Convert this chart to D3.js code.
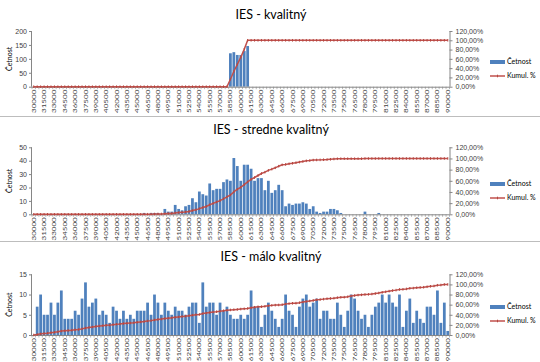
<!DOCTYPE html>
<html>
<head>
<meta charset="utf-8">
<script src="https://cdn.jsdelivr.net/npm/d3@7"></script>
<style>
  body { margin: 0; background: #fff; }
  svg { display: block; font-family: Lato, "Open Sans", sans-serif; }
  .tick-lbl { font-size: 7px; fill: #404040; }
  .x-lbl { font-size: 8px; fill: #404040; }
  .title { font-size: 12.5px; fill: #000; }
  .legend { font-size: 7px; fill: #000; }
</style>
</head>
<body>
<div id="chart"></div>
<script>
// histogram bins (horná hranica triedy)
var bins = [30000,30500,31000,31500,32000,32500,33000,33500,34000,34500,35000,35500,36000,36500,37000,37500,38000,38500,39000,39500,
  40000,40500,41000,41500,42000,42500,43000,43500,44000,44500,45000,45500,46000,46500,47000,47500,48000,48500,49000,49500,
  50000,50500,51000,51500,52000,52500,53000,53500,54000,54500,55000,55500,56000,56500,57000,57500,58000,58500,59000,59500,
  60000,60500,61000,61500,62000,62500,63000,63500,64000,64500,65000,65500,66000,66500,67000,67500,68000,68500,69000,69500,
  70000,70500,71000,71500,72000,72500,73000,73500,74000,74500,75000,75500,76000,76500,77000,77500,78000,78500,79000,79500,
  80000,80500,81000,81500,82000,82500,83000,83500,84000,84500,85000,85500,86000,86500,87000,87500,88000,88500,89000,89500,
  90000];

// Četnost - IES kvalitný
var kvalitny = [0,0,0,0,0,0,0,0,0,0, 0,0,0,0,0,0,0,0,0,0, 0,0,0,0,0,0,0,0,0,0,
  0,0,0,0,0,0,0,0,0,0, 0,0,0,0,0,0,0,0,0,0, 0,0,0,0,0,0,0,120,124,114,
  114,128,146,0,0,0,0,0,0,0, 0,0,0,0,0,0,0,0,0,0, 0,0,0,0,0,0,0,0,0,0,
  0,0,0,0,0,0,0,0,0,0, 0,0,0,0,0,0,0,0,0,0, 0,0,0,0,0,0,0,0,0,0, 0];

// Četnost - IES stredne kvalitný
var stredne = [0,0,0,0,0,0,0,0,0,0, 0,0,0,0,0,0,0,0,0,0, 0,0,0,0,0,0,0,0,0,0,
  0,0,1,0,1,1,1,0,4,2, 2,7,4,3,6,7,12,9,17,15, 14,23,18,19,19,24,26,25,42,36,
  25,37,37,34,25,27,27,18,25,16, 18,22,18,6,8,7,8,8,9,8, 4,6,2,1,2,2,4,4,3,1,
  0,0,0,0,0,0,2,0,0,0, 1,0,0,0,0,0,0,0,0,0, 0,0,0,0,0,0,0,0,0,0, 0];

// Četnost - IES málo kvalitný
var malo = [0,7,10,5,5,8,5,8,11,4, 4,4,6,5,9,13,7,8,9,5, 6,5,3,7,6,4,6,4,5,4,
  6,6,6,8,5,10,8,5,8,6, 5,7,6,6,5,7,8,8,3,13, 7,8,8,5,8,6,7,5,4,4,
  5,4,5,11,7,7,2,5,8,6, 4,2,4,10,6,5,2,7,9,10, 7,8,9,4,6,6,4,4,8,5,
  2,6,10,9,6,4,5,2,5,7, 8,10,8,10,8,7,10,2,6,9, 3,6,4,3,7,7,5,11,3,8, 1];

var titles = ["IES - kvalitný", "IES - stredne kvalitný", "IES - málo kvalitný"];
var yTicks1 = [0, 50, 100, 150, 200];
var yTicks2 = [0, 10, 20, 30, 40, 50];
var yTicks3 = [0, 5, 10, 15];
var pctTicks = [0, 0.2, 0.4, 0.6, 0.8, 1.0, 1.2];
var legendLabels = ["Četnost", "Kumul. %"];

var W = 540, H = 362;
var BLUE = "#4F81BD", RED = "#C0504D", MARK = "#b5473f", AXIS = "#868686";

var sk = d3.formatLocale({ decimal: ",", thousands: " ", grouping: [3], currency: ["", " €"] });
var pct = sk.format(".2%");

var svg = d3.select("#chart").append("svg")
  .attr("width", W).attr("height", H);

// rámiky grafov
[116, 241].forEach(function (y) {
  svg.append("line")
    .attr("x1", 0).attr("x2", W).attr("y1", y + 0.5).attr("y2", y + 0.5)
    .attr("stroke", "#bdbdbd").attr("stroke-width", 1);
});

var x = d3.scaleBand().domain(bins).range([32, 449.5]).paddingInner(0.2).paddingOuter(0.1);

function drawPanel(cfg) {
  var g = svg.append("g");
  var y = d3.scaleLinear().domain([0, cfg.yTicks[cfg.yTicks.length - 1]]).range([cfg.bottom, cfg.top]);
  var y2 = d3.scaleLinear().domain([0, 1.2]).range([cfg.bottom, cfg.top]);
  var total = d3.sum(cfg.data);
  var cum = Array.from(d3.cumsum(cfg.data), function (v) { return v / total; });
  var cx = function (d, i) { return x(bins[i]) + x.bandwidth() / 2; };

  g.append("text").attr("class", "title")
    .attr("x", 271).attr("y", cfg.titleY)
    .attr("text-anchor", "middle").text(cfg.title);

  // bars
  g.selectAll(".bar").data(cfg.data).enter().append("rect")
    .attr("x", function (d, i) { return x(bins[i]); })
    .attr("width", x.bandwidth())
    .attr("y", function (d) { return y(d); })
    .attr("height", function (d) { return cfg.bottom - y(d); })
    .attr("fill", BLUE);

  // left axis
  var la = g.append("g").attr("transform", "translate(32,0)")
    .call(d3.axisLeft(y).tickValues(cfg.yTicks).tickSize(3).tickPadding(2));
  la.select(".domain").attr("stroke", AXIS).attr("d", "M-0.5," + cfg.top + "V" + cfg.bottom);
  la.selectAll(".tick line").attr("stroke", AXIS);
  la.selectAll(".tick text").attr("class", "tick-lbl").attr("font-size", null).attr("font-family", null);

  // right axis
  var ra = g.append("g").attr("transform", "translate(449.5,0)")
    .call(d3.axisRight(y2).tickValues(pctTicks).tickFormat(pct).tickSize(3).tickPadding(3));
  ra.select(".domain").attr("stroke", AXIS).attr("d", "M0.5," + cfg.top + "V" + cfg.bottom);
  ra.selectAll(".tick line").attr("stroke", AXIS);
  ra.selectAll(".tick text").attr("class", "tick-lbl").attr("font-size", null).attr("font-family", null);

  // x axis
  g.append("line").attr("x1", 32).attr("x2", 449.5)
    .attr("y1", cfg.bottom + 0.5).attr("y2", cfg.bottom + 0.5).attr("stroke", AXIS);
  var step = x.step();
  g.selectAll(".xt").data(bins.concat([null])).enter().append("line")
    .attr("x1", function (d, i) { return 32 + i * step; })
    .attr("x2", function (d, i) { return 32 + i * step; })
    .attr("y1", cfg.bottom).attr("y2", cfg.bottom + 2.5)
    .attr("stroke", AXIS).attr("stroke-width", 0.6);
  g.selectAll(".xl").data(bins.filter(function (d, i) { return i % 3 === 0; })).enter().append("text")
    .attr("class", "x-lbl")
    .attr("transform", function (d) {
      return "translate(" + (x(d) + x.bandwidth() / 2) + "," + (cfg.bottom + 3) + ") rotate(-90) scale(1,0.72)";
    })
    .attr("text-anchor", "end").attr("dy", "0.35em")
    .text(function (d) { return d; });

  // cumulative line
  var line = d3.line().x(cx).y(function (d) { return y2(d); });
  g.append("path").datum(cum).attr("d", line)
    .attr("fill", "none").attr("stroke", RED).attr("stroke-width", 1.5);
  g.selectAll(".mk").data(cum).enter().append("rect")
    .attr("x", function (d, i) { return cx(d, i) - 0.5; })
    .attr("y", function (d) { return y2(d) - 1.3; })
    .attr("width", 1).attr("height", 2.6)
    .attr("fill", MARK);

  // y title
  g.append("text").attr("class", "legend")
    .attr("transform", "translate(12," + ((cfg.top + cfg.bottom) / 2) + ") rotate(-90)")
    .attr("text-anchor", "middle").text("Četnost");

  // legend
  g.append("rect").attr("x", 490).attr("y", cfg.legY - 2).attr("width", 15).attr("height", 4).attr("fill", BLUE);
  g.append("text").attr("class", "legend").attr("x", 507).attr("y", cfg.legY).attr("dy", "0.35em").text(legendLabels[0]);
  g.append("line").attr("x1", 490).attr("x2", 505).attr("y1", cfg.legY + 14).attr("y2", cfg.legY + 14)
    .attr("stroke", RED).attr("stroke-width", 1.5);
  g.append("rect").attr("x", 497).attr("y", cfg.legY + 12.7).attr("width", 1).attr("height", 2.6).attr("fill", MARK);
  g.append("text").attr("class", "legend").attr("x", 507).attr("y", cfg.legY + 14).attr("dy", "0.35em").text(legendLabels[1]);
}

drawPanel({ title: titles[0], data: kvalitny, yTicks: yTicks1, top: 31, bottom: 86.7, titleY: 18.5, legY: 62 });
drawPanel({ title: titles[1], data: stredne, yTicks: yTicks2, top: 147.3, bottom: 214.3, titleY: 134, legY: 184 });
drawPanel({ title: titles[2], data: malo, yTicks: yTicks3, top: 274.3, bottom: 335, titleY: 261, legY: 307 });
</script>
</body>
</html>
